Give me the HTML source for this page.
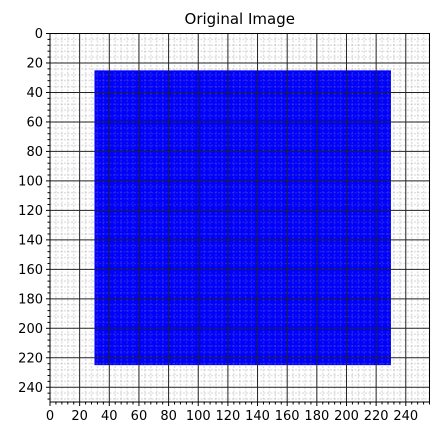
<!DOCTYPE html>
<html><head><meta charset="utf-8"><style>
body{margin:0;background:#fff;}
svg{display:block;font-family:"DejaVu Sans","Liberation Sans",sans-serif;}
</style></head><body>
<svg id="chart" width="440" height="439"></svg>
<script>
const xTicks=[0,20,40,60,80,100,120,140,160,180,200,220,240];
const yTicks=[0,20,40,60,80,100,120,140,160,180,200,220,240];
const rectX=[30,230];
const rectY=[25,225];
const xDomain=[0,256];
const yDomain=[0,250];
const L=50,R=429.5,T=33.5,B=402;
const sx=v=>L+(v-xDomain[0])/(xDomain[1]-xDomain[0])*(R-L);
const sy=v=>T+(v-yDomain[0])/(yDomain[1]-yDomain[0])*(B-T);
const NS='http://www.w3.org/2000/svg';
const svg=document.getElementById('chart');
function mk(tag,attrs,parent){const e=document.createElementNS(NS,tag);for(const k in attrs)e.setAttribute(k,attrs[k]);(parent||svg).appendChild(e);return e;}
const title=mk('text',{x:(L+R)/2,y:24,'text-anchor':'middle','font-size':15,fill:'#000'});
title.textContent='Original Image';


const img=mk('rect',{x:sx(rectX[0]),y:sy(rectY[0]),width:sx(rectX[1])-sx(rectX[0]),height:sy(rectY[1])-sy(rectY[0]),fill:'#0000ff'});


const grid=mk('g',{});


for(let v=0;v<=xDomain[1];v+=4){if(v%20)mk('line',{x1:sx(v),x2:sx(v),y1:T,y2:B,stroke:'#888','stroke-opacity':0.25,'stroke-width':1.5,'stroke-dasharray':'2,1.5'},grid);}
for(let v=0;v<=yDomain[1];v+=4){if(v%20)mk('line',{y1:sy(v),y2:sy(v),x1:L,x2:R,stroke:'#888','stroke-opacity':0.25,'stroke-width':1.5,'stroke-dasharray':'2,1.5'},grid);}
xTicks.forEach(v=>mk('line',{x1:sx(v),x2:sx(v),y1:T,y2:B,stroke:'#222','stroke-width':1},grid));
yTicks.forEach(v=>mk('line',{y1:sy(v),y2:sy(v),x1:L,x2:R,stroke:'#222','stroke-width':1},grid));
const frame=mk('rect',{x:L,y:T,width:R-L,height:B-T,fill:'none',stroke:'#000','stroke-width':1});


const ax=mk('g',{});


for(let v=0;v<=xDomain[1];v+=4){if(v%20)mk('line',{x1:sx(v),x2:sx(v),y1:B,y2:B+2.5,stroke:'#000'},ax);}
xTicks.forEach(v=>{mk('line',{x1:sx(v),x2:sx(v),y1:B,y2:B+4,stroke:'#000'},ax);const t=mk('text',{x:sx(v),y:B+18,'text-anchor':'middle','font-size':13},ax);t.textContent=v;});
const ay=mk('g',{});


for(let v=0;v<=yDomain[1];v+=4){if(v%20)mk('line',{y1:sy(v),y2:sy(v),x1:L,x2:L-2.5,stroke:'#000'},ay);}
yTicks.forEach(v=>{mk('line',{y1:sy(v),y2:sy(v),x1:L,x2:L-4,stroke:'#000'},ay);const t=mk('text',{x:L-7,y:sy(v)+4.5,'text-anchor':'end','font-size':13},ay);t.textContent=v;});
</script>
</body></html>
